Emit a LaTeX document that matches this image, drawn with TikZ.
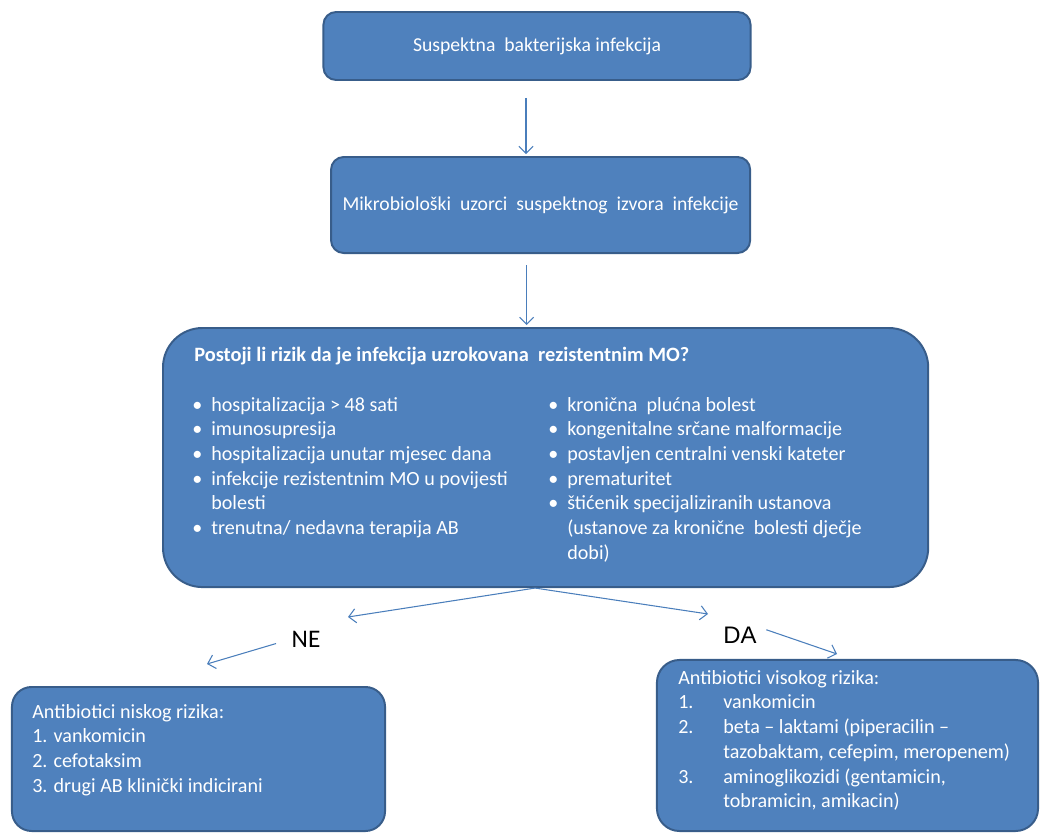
\documentclass[tikz,border=0pt]{standalone}
\usepackage{fontspec}
\setmainfont{Carlito}
\newfontfamily\arialfont{Liberation Sans}
\usetikzlibrary{positioning, arrows.meta}

\definecolor{boxblue}{HTML}{4F81BD}
\definecolor{boxedge}{HTML}{385D8A}
\definecolor{flowblue}{HTML}{4A7EBB}

\newcommand{\blt}{\makebox[0.475cm][l]{\textbullet}}
\newcommand{\contline}{\hspace*{0.475cm}}
\newcommand{\nr}[1]{\makebox[1.125cm][l]{#1}}
\newcommand{\contlong}{\hspace*{1.125cm}}

\begin{document}
\begin{tikzpicture}[x=0.025cm, y=-0.025cm,
  box/.style={draw=boxedge, line width=1.4pt, fill=boxblue, text=white, rounded corners=9pt, inner sep=0pt},
  boxtext/.style={text=white, align=left, inner sep=0pt, anchor=north west, font=\fontsize{14.3}{17.55}\selectfont},
  answer/.style={font=\fontsize{18}{20}\selectfont, inner sep=0pt},
  flow/.style={draw=flowblue, line width=0.75pt, -{Straight Barb[length=5pt, width=10pt]}}]

  \useasboundingbox (0,0) rectangle (1040,834);

  \node[box, minimum width=10.675cm, minimum height=1.7cm, font=\fontsize{14}{17}\selectfont] (start) at (537,46) {Suspektna\ \ bakterijska infekcija};
  \node[box, minimum width=10.475cm, minimum height=2.4cm, font=\fontsize{14}{17}\selectfont] (samples) [below=1.875cm of start, xshift=0.09cm] {Mikrobiološki\ \ uzorci\ \ suspektnog\ \ izvora\ \ infekcije};
  \node[box, rounded corners=28pt, minimum width=19.125cm, minimum height=6.475cm] (risk) [below=1.825cm of samples, xshift=0.125cm] {};

  % text inside the risk box
  \node[boxtext, font=\bfseries\fontsize{14.5}{17}\selectfont] (riskq) at (194,347) {Postoji li rizik da je infekcija uzrokovana\ \ rezistentnim MO?};
  \node[boxtext] (riskleft) at (192,397) {\blt hospitalizacija > 48 sati\\
    \blt imunosupresija\\
    \blt hospitalizacija unutar mjesec dana\\
    \blt infekcije rezistentnim MO u povijesti\\
    \contline bolesti\\
    \blt trenutna/ nedavna terapija AB};
  \node[boxtext] (riskright) at (548,397) {\blt kronična\ \ plućna bolest\\
    \blt kongenitalne srčane malformacije\\
    \blt postavljen centralni venski kateter\\
    \blt prematuritet\\
    \blt štićenik specijaliziranih ustanova\\
    \contline (ustanove za kronične\ \ bolesti dječje\\
    \contline dobi)};

  \node[answer] (no) at (306,639) {NE};
  \node[answer, font=\arialfont\fontsize{17}{19}\selectfont] (yes) at (740,635) {DA};

  \node[box, rounded corners=14pt, minimum width=9.325cm, minimum height=3.6cm] (low) at (198.5,759) {};
  \node[boxtext] (lowlist) at (32,704) {Antibiotici niskog rizika:\\
    1. vankomicin\\
    2. cefotaksim\\
    3. drugi AB klinički indicirani};

  \node[box, rounded corners=16pt, minimum width=9.525cm, minimum height=4.275cm] (high) at (847.5,745.5) {};
  \node[boxtext, font=\fontsize{14.3}{17.6}\selectfont] (highlist) at (678,670) {Antibiotici visokog rizika:\\
    \nr{1.}vankomicin\\
    \nr{2.}beta -- laktami (piperacilin --\\
    \contlong tazobaktam, cefepim, meropenem)\\
    \nr{3.}aminoglikozidi (gentamicin,\\
    \contlong tobramicin, amikacin)};

  \coordinate (fork) at ([xshift=-0.2625cm]risk.south);
  \coordinate (notip) at (348,617);
  \coordinate (yestip) at (708,614);
  \coordinate (lowtip) at (207,664);
  \coordinate (hightip) at (837,654);

  \draw[flow, shorten <=0.425cm, shorten >=0.05cm] ([xshift=-0.275cm]start.south) -- ([xshift=-0.275cm]start.south |- samples.north);
  \draw[flow, shorten <=0.275cm, shorten >=0.05cm] ([xshift=-0.35cm]samples.south) -- ([xshift=-0.35cm]samples.south |- risk.north);
  \draw[flow] (fork) -- (notip);
  \draw[flow] (fork) -- (yestip);
  \draw[flow, shorten <=0.4cm] (no.west) -- (lowtip);
  \draw[flow, shorten <=0.25cm] (yes.north east) -- (hightip);
\end{tikzpicture}
\end{document}
